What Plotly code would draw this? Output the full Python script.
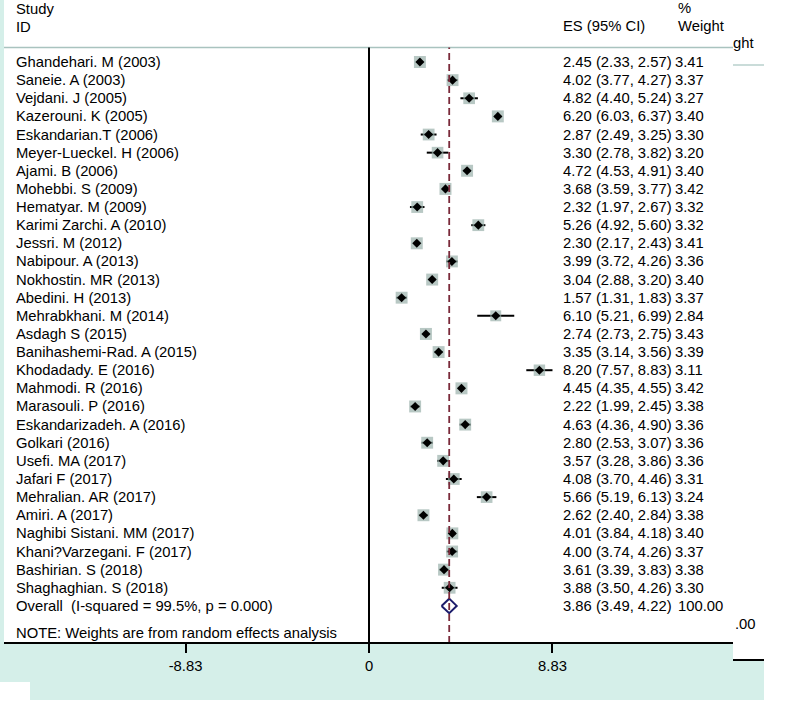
import plotly.graph_objects as go

studies = ["Ghandehari. M (2003)", "Saneie. A (2003)", "Vejdani. J (2005)", "Kazerouni. K (2005)",
           "Eskandarian.T (2006)", "Meyer-Lueckel. H (2006)", "Ajami. B (2006)", "Mohebbi. S (2009)",
           "Hematyar. M (2009)", "Karimi Zarchi. A (2010)", "Jessri. M (2012)", "Nabipour. A (2013)",
           "Nokhostin. MR (2013)", "Abedini. H (2013)", "Mehrabkhani. M (2014)", "Asdagh S (2015)",
           "Banihashemi-Rad. A (2015)", "Khodadady. E (2016)", "Mahmodi. R (2016)", "Marasouli. P (2016)",
           "Eskandarizadeh. A (2016)", "Golkari (2016)", "Usefi. MA (2017)", "Jafari F (2017)",
           "Mehralian. AR (2017)", "Amiri. A (2017)", "Naghibi Sistani. MM (2017)", "Khani?Varzegani. F (2017)",
           "Bashirian. S (2018)", "Shaghaghian. S (2018)"]
es = [2.45, 4.02, 4.82, 6.20, 2.87, 3.30, 4.72, 3.68, 2.32, 5.26, 2.30, 3.99, 3.04, 1.57, 6.10,
      2.74, 3.35, 8.20, 4.45, 2.22, 4.63, 2.80, 3.57, 4.08, 5.66, 2.62, 4.01, 4.00, 3.61, 3.88]
lo = [2.33, 3.77, 4.40, 6.03, 2.49, 2.78, 4.53, 3.59, 1.97, 4.92, 2.17, 3.72, 2.88, 1.31, 5.21,
      2.73, 3.14, 7.57, 4.35, 1.99, 4.36, 2.53, 3.28, 3.70, 5.19, 2.40, 3.84, 3.74, 3.39, 3.50]
hi = [2.57, 4.27, 5.24, 6.37, 3.25, 3.82, 4.91, 3.77, 2.67, 5.60, 2.43, 4.26, 3.20, 1.83, 6.99,
      2.75, 3.56, 8.83, 4.55, 2.45, 4.90, 3.07, 3.86, 4.46, 6.13, 2.84, 4.18, 4.26, 3.83, 4.26]
weights = [3.41, 3.37, 3.27, 3.40, 3.30, 3.20, 3.40, 3.42, 3.32, 3.32, 3.41, 3.36, 3.40, 3.37, 2.84,
           3.43, 3.39, 3.11, 3.42, 3.38, 3.36, 3.36, 3.36, 3.31, 3.24, 3.38, 3.40, 3.37, 3.38, 3.30]
overall_label = "Overall  (I-squared = 99.5%, p = 0.000)"
overall_es, overall_lo, overall_hi, overall_w = 3.86, 3.49, 4.22, 100.00
tick_vals = [-8.83, 0, 8.83]
tick_text = ["-8.83", "0", "8.83"]
note = "NOTE: Weights are from random effects analysis"

W, H = 788, 721
PX_PER_UNIT = 20.78
X0 = 369
ROW0, ROWH = 62, 18.13
AXIS_Y = 643
TEAL = "#d5efe9"
FONT = "Liberation Sans, Arial, sans-serif"

def px(xp):
    return xp / W

def py(yp):
    return 1 - yp / H

n = len(studies)
rows = list(range(n))
ov_row = n

fig = go.Figure()

# CI lines
for i in rows:
    fig.add_trace(go.Scatter(x=[lo[i], hi[i]], y=[i, i], mode="lines",
                             line=dict(color="black", width=2), hoverinfo="skip", showlegend=False))
# weight boxes
fig.add_trace(go.Scatter(x=es, y=rows, mode="markers",
                         marker=dict(symbol="square", color="#9ab0ab",
                                     size=[12 * (w / 3.43) ** 0.5 for w in weights], line=dict(width=0)),
                         hoverinfo="skip", showlegend=False))
# point estimates
fig.add_trace(go.Scatter(x=es, y=rows, mode="markers",
                         marker=dict(symbol="diamond", color="black", size=7, line=dict(width=0)),
                         hoverinfo="skip", showlegend=False))
# overall diamond
fig.add_trace(go.Scatter(x=[overall_lo, overall_es, overall_hi, overall_es, overall_lo],
                         y=[ov_row, ov_row - 0.4, ov_row, ov_row + 0.4, ov_row], mode="lines",
                         line=dict(color="#1c1c6b", width=2), hoverinfo="skip", showlegend=False))

shapes = []
# teal background pieces
shapes += [
    dict(type="rect", xref="paper", yref="paper", x0=0, x1=px(4), y0=py(AXIS_Y), y1=1,
         fillcolor=TEAL, line=dict(width=0), layer="below"),
    dict(type="rect", xref="paper", yref="paper", x0=px(30), x1=px(733), y0=py(700), y1=py(AXIS_Y),
         fillcolor=TEAL, line=dict(width=0), layer="below"),
    dict(type="rect", xref="paper", yref="paper", x0=0, x1=px(30), y0=py(682), y1=py(AXIS_Y),
         fillcolor=TEAL, line=dict(width=0), layer="below"),
    dict(type="rect", xref="paper", yref="paper", x0=px(733), x1=px(764), y0=py(700), y1=py(660),
         fillcolor=TEAL, line=dict(width=0), layer="below"),
]
# header separator
shapes.append(dict(type="line", xref="paper", yref="paper", x0=px(4), x1=px(733), y0=py(47.5), y1=py(47.5),
                   line=dict(color="#a9c3bf", width=1.5)))
shapes.append(dict(type="line", xref="paper", yref="paper", x0=px(733), x1=px(764), y0=py(65), y1=py(65),
                   line=dict(color="#b9d0cc", width=1.5)))
# null line and overall dashed line
shapes.append(dict(type="line", xref="x", yref="paper", x0=0, x1=0, y0=py(AXIS_Y), y1=py(47.5),
                   line=dict(color="black", width=2)))
shapes.append(dict(type="line", xref="x", yref="paper", x0=overall_es, x1=overall_es, y0=py(AXIS_Y), y1=py(47.5),
                   line=dict(color="#7a2a3a", width=1.8, dash="7px,4px")))
# axis line
shapes.append(dict(type="line", xref="paper", yref="paper", x0=px(4), x1=px(733), y0=py(AXIS_Y), y1=py(AXIS_Y),
                   line=dict(color="black", width=2)))
shapes.append(dict(type="line", xref="paper", yref="paper", x0=px(733), x1=px(764), y0=py(660), y1=py(660),
                   line=dict(color="black", width=2)))

ann = []
fs = 14.8
def txt(x, y, s, yref="paper"):
    ann.append(dict(x=x, y=y, xref="paper", yref=yref, text=s, showarrow=False, xanchor="left",
                    yanchor="middle", xshift=-2, font=dict(family=FONT, size=fs, color="black")))

# headers
txt(px(16), py(9), "Study")
txt(px(16), py(27), "ID")
txt(px(563), py(26), "ES (95% CI)")
txt(px(678), py(8), "%")
txt(px(678), py(26), "Weight")
txt(px(733), py(43), "ght")

for i in rows:
    txt(px(16), i, studies[i], yref="y")
    txt(px(563), i, f"{es[i]:.2f} ({lo[i]:.2f}, {hi[i]:.2f})", yref="y")
    txt(px(675), i, f"{weights[i]:.2f}", yref="y")
txt(px(16), ov_row, overall_label, yref="y")
txt(px(563), ov_row, f"{overall_es:.2f} ({overall_lo:.2f}, {overall_hi:.2f})", yref="y")
txt(px(678), ov_row, f"{overall_w:.2f}", yref="y")
txt(px(16), py(633), note)
txt(px(735), py(624), ".00")

y_top = -ROW0 / ROWH
y_bot = (AXIS_Y - ROW0) / ROWH

fig.update_layout(
    width=W, height=H, margin=dict(l=0, r=0, t=0, b=0),
    paper_bgcolor="white", plot_bgcolor="rgba(0,0,0,0)",
    shapes=shapes, annotations=ann,
    xaxis=dict(domain=[0, 1], range=[-X0 / PX_PER_UNIT, (W - X0) / PX_PER_UNIT],
               showgrid=False, zeroline=False, showline=False,
               tickvals=tick_vals, ticktext=tick_text, ticks="outside", ticklen=9, tickwidth=2,
               tickcolor="black", tickfont=dict(family=FONT, size=14.8, color="black")),
    yaxis=dict(domain=[1 - AXIS_Y / H, 1], range=[y_bot, y_top], showgrid=False, zeroline=False,
               showline=False, showticklabels=False, ticks=""),
    showlegend=False,
)

fig.write_html("out.html", config={"displayModeBar": False},
               post_script="document.body.style.margin='0px'; document.body.style.overflow='hidden';")
